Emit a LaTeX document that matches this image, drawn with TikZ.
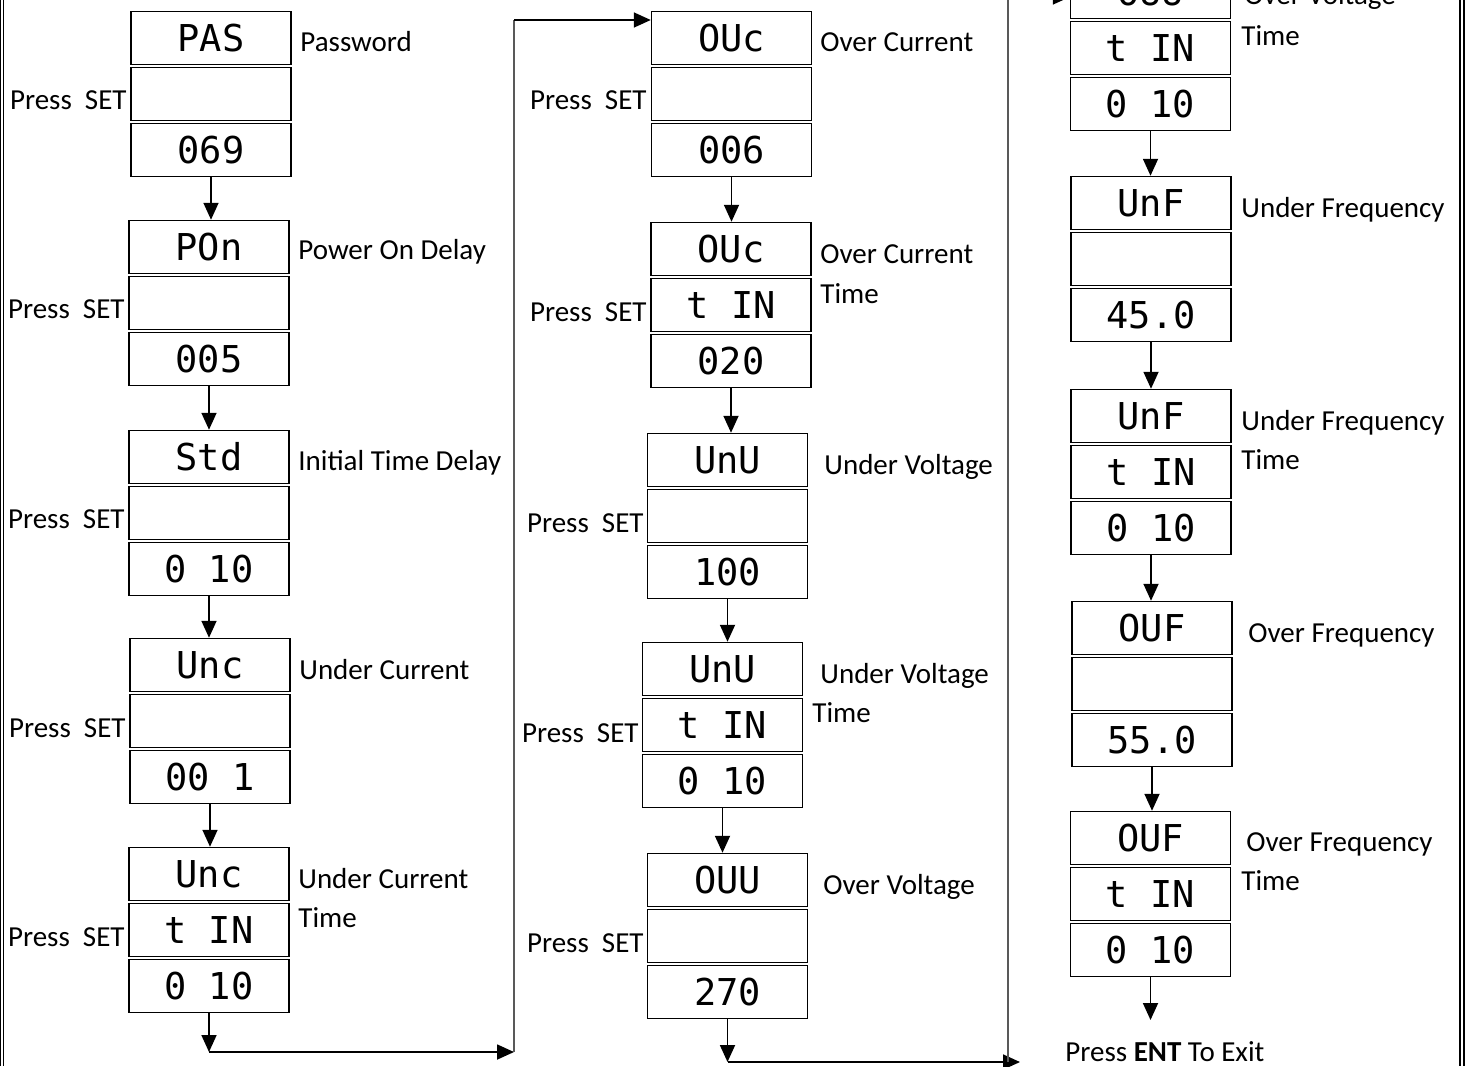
\documentclass[tikz,border=0pt]{standalone}
\usepackage{fontspec}
\setmainfont{Carlito}
\newfontfamily\segfont{DejaVu Sans Mono}
\usetikzlibrary{arrows.meta}

\begin{document}
\begin{tikzpicture}[x=0.5pt, y=-0.5pt, >={Triangle[length=8.5pt,width=7.5pt]},
  disp/.style={draw, line width=0.75pt, minimum width=80pt, minimum height=26.5pt, inner sep=0pt,
    font=\segfont\fontsize{18.5}{19}\selectfont},
  lbl/.style={inner sep=0pt, anchor=base west, font=\fontsize{14.5}{18}\selectfont},
  setlbl/.style={inner sep=0pt, anchor=base east, font=\fontsize{14.5}{18}\selectfont},
  flow/.style={line width=0.9pt, ->},
  wire/.style={line width=0.6pt, black!65}]
  \useasboundingbox (0,0) rectangle (1465,1066);
  \clip (0,0) rectangle (1465,1066);

  \draw[line width=0.5pt] (0.5,0) -- (0.5,1066);
  \draw[line width=0.5pt] (3.5,0) -- (3.5,1066);
  \draw[line width=1.2pt] (1459.7,0) -- (1459.7,1066);
  \draw[line width=1pt] (1464,0) -- (1464,1066);

  \node[disp] (pas) at (211,38) {PAS};
  \node[disp] (passet) at (211,94) {};
  \node[disp] (pasval) at (211,150) {069};
  \node[disp] (pon) at (209,247) {POn};
  \node[disp] (ponset) at (209,303) {};
  \node[disp] (ponval) at (209,359) {005};
  \node[disp] (std) at (209,457) {Std};
  \node[disp] (stdset) at (209,513) {};
  \node[disp] (stdval) at (209,569) {0 10};
  \node[disp] (unc) at (210,665) {Unc};
  \node[disp] (uncset) at (210,721) {};
  \node[disp] (uncval) at (210,777) {00 1};
  \node[disp] (unct) at (209,874) {Unc};
  \node[disp] (unctset) at (209,930) {t IN};
  \node[disp] (unctval) at (209,986) {0 10};

  \node[disp] (ouc) at (731.5,38) {OUc};
  \node[disp] (oucset) at (731.5,94) {};
  \node[disp] (oucval) at (731.5,150) {006};
  \node[disp] (ouct) at (731,249) {OUc};
  \node[disp] (ouctset) at (731,305) {t IN};
  \node[disp] (ouctval) at (731,361) {020};
  \node[disp] (unu) at (727.5,460) {UnU};
  \node[disp] (unuset) at (727.5,516) {};
  \node[disp] (unuval) at (727.5,572) {100};
  \node[disp] (unut) at (722.5,669) {UnU};
  \node[disp] (unutset) at (722.5,725) {t IN};
  \node[disp] (unutval) at (722.5,781) {0 10};
  \node[disp] (ouu) at (727.5,880) {OUU};
  \node[disp] (ouuset) at (727.5,936) {};
  \node[disp] (ouuval) at (727.5,992) {270};

  \node[disp] (ouut) at (1150.5,-8) {OUU};
  \node[disp] (ouutset) at (1150.5,48) {t IN};
  \node[disp] (ouutval) at (1150.5,104) {0 10};
  \node[disp] (unf) at (1151,203) {UnF};
  \node[disp] (unfset) at (1151,259) {};
  \node[disp] (unfval) at (1151,315) {45.0};
  \node[disp] (unft) at (1151,416) {UnF};
  \node[disp] (unftset) at (1151,472) {t IN};
  \node[disp] (unftval) at (1151,528) {0 10};
  \node[disp] (ouf) at (1152,628) {OUF};
  \node[disp] (oufset) at (1152,684) {};
  \node[disp] (oufval) at (1152,740) {55.0};
  \node[disp] (ouft) at (1150.5,838) {OUF};
  \node[disp] (ouftset) at (1150.5,894) {t IN};
  \node[disp] (ouftval) at (1150.5,950) {0 10};

  \node[lbl] (paslbl) at (300,51) {Password};
  \node[lbl] (ponlbl) at (298,259) {Power On Delay};
  \node[lbl] (stdlbl) at (298,470) {Initial Time Delay};
  \node[lbl] (unclbl) at (299,679) {Under Current};
  \node[lbl] (unctlbl) at (298,888) {Under Current};
  \node[lbl] (uncttime) at (298,927) {Time};
  \node[lbl] (ouclbl) at (820,51) {Over Current};
  \node[lbl] (ouctlbl) at (820,263) {Over Current};
  \node[lbl] (oucttime) at (820,303) {Time};
  \node[lbl] (unulbl) at (824,474) {Under Voltage};
  \node[lbl] (unutlbl) at (820,683) {Under Voltage};
  \node[lbl] (unuttime) at (812,722) {Time};
  \node[lbl] (ouulbl) at (823,894) {Over Voltage};
  \node[lbl] (ouutlbl) at (1244,4) {Over Voltage};
  \node[lbl] (ouuttime) at (1241,45) {Time};
  \node[lbl] (unflbl) at (1241,217) {Under Frequency};
  \node[lbl] (unftlbl) at (1241,430) {Under Frequency};
  \node[lbl] (unfttime) at (1241,469) {Time};
  \node[lbl] (ouflbl) at (1248,642) {Over Frequency};
  \node[lbl] (oucftlbl) at (1246,851) {Over Frequency};
  \node[lbl] (oufttime) at (1241,890) {Time};
  \node[lbl] (exit) at (1065,1061) {Press \textbf{ENT} To Exit};

  \node[setlbl] at (127,109) {Press\ \ SET};
  \node[setlbl] at (125,318) {Press\ \ SET};
  \node[setlbl] at (125,528) {Press\ \ SET};
  \node[setlbl] at (126,737) {Press\ \ SET};
  \node[setlbl] at (125,946) {Press\ \ SET};
  \node[setlbl] at (647,109) {Press\ \ SET};
  \node[setlbl] at (647,321) {Press\ \ SET};
  \node[setlbl] at (644,532) {Press\ \ SET};
  \node[setlbl] at (639,742) {Press\ \ SET};
  \node[setlbl] at (644,952) {Press\ \ SET};

  \draw[flow] (pasval.south) -- (pasval.south |- pon.north);
  \draw[flow] (ponval.south) -- (ponval.south |- std.north);
  \draw[flow] (stdval.south) -- (stdval.south |- unc.north);
  \draw[flow] (uncval.south) -- (uncval.south |- unct.north);
  \draw[flow] (oucval.south) -- (oucval.south |- ouct.north);
  \draw[flow] (ouctval.south) -- (ouctval.south |- unu.north);
  \draw[flow] (unuval.south) -- (unuval.south |- unut.north);
  \draw[flow] (unutval.south) -- (unutval.south |- ouu.north);
  \draw[flow] (ouutval.south) -- (ouutval.south |- unf.north);
  \draw[flow] (unfval.south) -- (unfval.south |- unft.north);
  \draw[flow] (unftval.south) -- (unftval.south |- ouf.north);
  \draw[flow] (oufval.south) -- (oufval.south |- ouft.north);

  \coordinate (leftturn) at (209,1052);
  \coordinate (leftup) at (514,1052);
  \coordinate (lefttop) at (514,20);
  \draw[flow] (unctval.south) -- (leftturn);
  \draw[flow] (leftturn) -- (leftup);
  \draw[wire] (leftup) -- (lefttop);
  \draw[flow] (lefttop) -- (lefttop -| ouc.west);

  \coordinate (midturn) at (727.5,1062);
  \coordinate (midend) at (1020,1062);
  \coordinate (midup) at (1008,1062);
  \coordinate (midtop) at (1008,-3);
  \draw[flow] (ouuval.south) -- (midturn);
  \draw[flow] (midturn) -- (midend);
  \draw[wire] (midup) -- (midtop);
  \draw[flow] (midtop) -- (midtop -| ouut.west);

  \coordinate (exitin) at (1150.5,1020);
  \draw[flow] (ouftval.south) -- (exitin);
\end{tikzpicture}
\end{document}
